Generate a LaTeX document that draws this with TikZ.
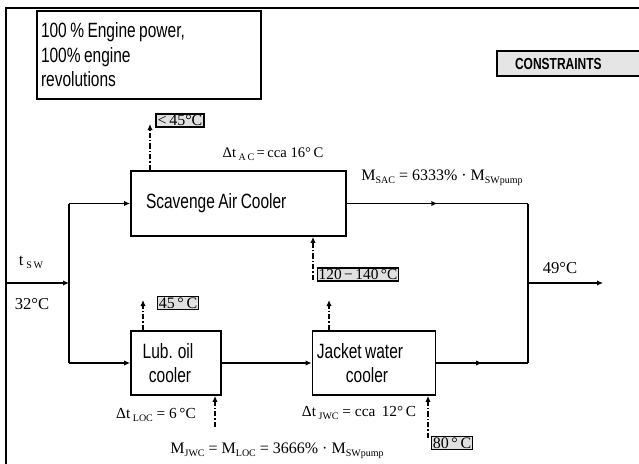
\documentclass[tikz,border=0pt]{standalone}
\usepackage{fontspec}
\setmainfont{Liberation Serif}
\newfontfamily\narrowsans[FakeStretch=0.75, WordSpace=0.8]{Liberation Sans}
\usetikzlibrary{arrows.meta, decorations.markings}

% subscript as set by the equation editor
\newcommand\subtxt[1]{\raisebox{-2.2pt}{\fontsize{7.5pt}{7.5pt}\selectfont #1}}

\tikzset{
  cooler/.style={draw, line width=1.3pt, font=\narrowsans\fontsize{15.5pt}{17.5pt}\selectfont},
  tempbox/.style={draw, line width=1.2pt, fill=black!12, inner xsep=1pt, inner ysep=1pt,
    text depth=0pt, font=\fontsize{12pt}{12pt}\selectfont},
  pipe/.style={line width=1pt},
  flow/.style={pipe, -{Latex[length=4.5pt,width=4pt]}},
  midarrow/.style={postaction={decorate}, decoration={markings,
    mark=at position 0.5 with {\arrow{Latex[length=4.5pt,width=4pt]}}}},
  ctrl/.style={line width=1pt, dash pattern=on 4pt off 1.5pt on 1pt off 1.5pt,
    -{Latex[length=4.5pt,width=4pt]}},
  lbl/.style={inner sep=0pt, font=\fontsize{12.5pt}{12.5pt}\selectfont},
  smalllbl/.style={inner sep=0pt, font=\fontsize{11.5pt}{11.5pt}\selectfont},
}

\begin{document}
\begin{tikzpicture}[x=0.75pt, y=-0.75pt]
    \useasboundingbox (0,0) rectangle (639,464);
    % Frame
    \draw[line width=1.8pt] (6,464) -- (6,8) -- (639,8);
    % Operating point and constraints header
    \node[cooler, minimum width=168pt, minimum height=66pt, inner xsep=3pt,
        text width=162pt, align=flush left, font=\narrowsans\fontsize{15.5pt}{18.4pt}\selectfont]
        (note) at (149,55) {100 \% Engine power,\\100\% engine\\revolutions};
    \node[draw, line width=1.2pt, fill=black!10, minimum height=18.75pt, inner xsep=13.5pt,
        text width=81pt, align=flush left, font=\narrowsans\fontsize{12pt}{12pt}\selectfont\bfseries]
        (cons) at (569,63.5) {CONSTRAINTS};
    % Coolers
    \node[cooler, minimum width=161.25pt, minimum height=48.75pt, inner xsep=11.25pt,
        text width=138.75pt, align=flush left] (sac) at (238.5,203.5) {Scavenge Air Cooler};
    \node[cooler, minimum width=67.5pt, minimum height=48pt, align=center]
        (loc) at (176,363) {Lub. oil\hspace*{12pt}\\cooler\hspace*{9pt}};
    \node[cooler, minimum width=91.5pt, minimum height=48pt, align=center]
        (jwc) at (374,363) {Jacket water\hspace*{21pt}\\cooler\hspace*{10.5pt}};
    % Sea water circuit
    \coordinate (inlet) at (6,283);
    \coordinate (split) at (69,283);
    \coordinate (merge) at (528,283);
    \coordinate (outlet) at (603,283);
    \draw[flow] (inlet) -- (split);
    \draw[pipe] (sac.west -| split) -- (loc.west -| split);
    \draw[flow] (sac.west -| split) -- (sac.west);
    \draw[flow] (loc.west -| split) -- (loc.west);
    \draw[flow] (loc.east) -- (jwc.west);
    \draw[pipe, midarrow] (sac.east) -- (sac.east -| merge);
    \draw[pipe, midarrow] (jwc.east) -- (jwc.east -| merge);
    \draw[pipe] (sac.east -| merge) -- (jwc.east -| merge);
    \draw[flow] (merge) -- (outlet);
    % Temperature limits
    \node[tempbox] (tair) at (180,120.5) {<\,45°C};
    \node[tempbox, font=\fontsize{11.5pt}{11.5pt}\selectfont] (tjw) at (358,274.5) {120\,−\,140\,°C};
    \node[tempbox] (toil) at (178,303) {45\,°\,C};
    \node[tempbox] (tin) at (452,443) {80\,°\,C};
    \coordinate (sacout) at (150,124);
    \coordinate (sacin) at (313,280);
    \coordinate (locout) at (143,300);
    \coordinate (locin) at (215,427);
    \coordinate (jwcout) at (329,300);
    \coordinate (jwcin) at (428,438);
    \draw[ctrl] (sac.north -| sacout) -- (sacout);
    \draw[ctrl] (sacin) -- (sacin |- sac.south);
    \draw[ctrl] (loc.north -| locout) -- (locout);
    \draw[ctrl] (locin) -- (locin |- loc.south);
    \draw[ctrl] (jwc.north -| jwcout) -- (jwcout);
    \draw[ctrl] (jwcin) -- (jwcin |- jwc.south);
    % Labels
    \node[lbl] (tsw) at (31,262) {t\,\subtxt{S\,W}};
    \node[lbl] (tswval) at (32,304) {32°C};
    \node[lbl] (tout) at (560,268) {49°C};
    \node[smalllbl, font=\fontsize{11pt}{11pt}\selectfont] (dtsac) at (273,154) {Δt\,\subtxt{A\,C}\,=\,cca 16°\,C};
    \node[lbl, font=\fontsize{12pt}{12pt}\selectfont] (msac) at (442,178) {M\subtxt{SAC} = 6333\% · M\subtxt{SWpump}};
    \node[smalllbl] (dtloc) at (156,415) {Δt\,\subtxt{LOC} = 6\,°C};
    \node[smalllbl] (dtjwc) at (359,413) {Δt\,\subtxt{JWC} = cca\, 12°\,C};
    \node[lbl, font=\fontsize{12pt}{12pt}\selectfont] (mjwc) at (277,451) {M\subtxt{JWC} = M\subtxt{LOC} = 3666\% · M\subtxt{SWpump}};
\end{tikzpicture}
\end{document}
